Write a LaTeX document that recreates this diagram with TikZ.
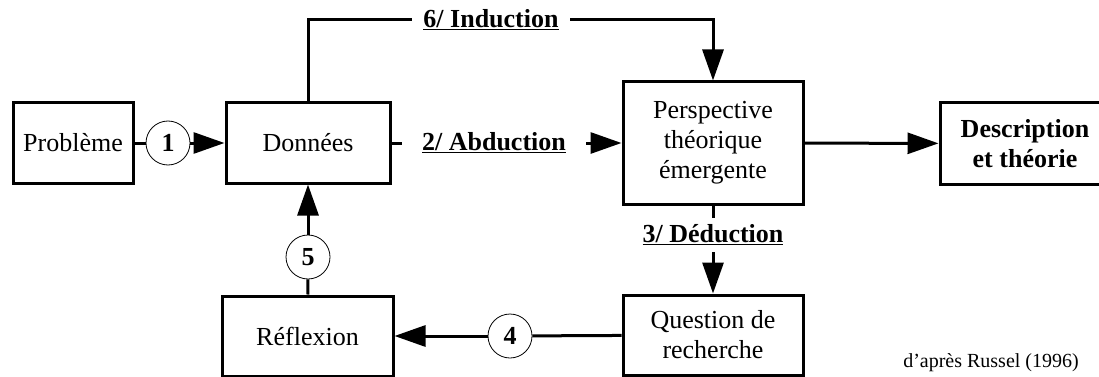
\documentclass[tikz,border=0pt]{standalone}
\usepackage{fontspec}
\setmainfont{Liberation Serif}
\usetikzlibrary{arrows.meta}

\tikzset{
  box/.style={draw, line width=3pt, align=center, inner sep=2pt,
    font=\fontsize{26}{30}\selectfont},
  num/.style={draw, circle, line width=0.8pt, minimum size=44pt, inner sep=0pt,
    font=\fontsize{26}{30}\selectfont\bfseries},
  lab/.style={inner sep=0pt, font=\fontsize{26}{30}\selectfont\bfseries},
  conn/.style={line width=3pt},
  arr/.style={line width=3pt, -{Triangle[length=31pt,width=21pt]}}
}

\begin{document}
\begin{tikzpicture}
      [x=1pt, y=-1pt]
      \clip (0,0) rectangle (1099,377);
      \fill[white] (0,0) rectangle (1099,377);

      % boxes
      \node[box, minimum width=120pt, minimum height=80pt] (probleme) at (73,143) {Problème};
      \node[box, minimum width=164pt, minimum height=80pt] (donnees) at (308,143) {Données};
      \node[box, minimum width=180pt, minimum height=122pt] (persp) at (713,143)
        {Perspective\\théorique\\émergente};
      \node[box, minimum width=170pt, minimum height=81pt, font=\fontsize{26}{30}\selectfont\bfseries]
        (descr) at (1025,143.5) {Description\\et théorie};
      \node[box, minimum width=180pt, minimum height=80pt] (question) at (713,335)
        {Question de\\recherche};
      \node[box, minimum width=171pt, minimum height=80pt] (reflexion) at (307.5,336) {Réflexion};

      % numbered steps
      \node[num] (c1) at (168,143) {1};
      \node[num] (c4) at (510,336) {4};
      \node[num] (c5) at (308,257) {5};

      % inference labels
      \node[lab, minimum width=158pt, minimum height=20pt] (induc) at (491,20) {\underline{6/ Induction}};
      \node[lab, minimum width=184pt, minimum height=20pt] (abduc) at (494,143) {\underline{2/ Abduction}};
      \node[lab, minimum height=34pt] (deduc) at (713,235) {\underline{3/ Déduction}};

      \node[inner sep=0pt, font=\fontsize{20}{24}\selectfont] (source) at (991,363) {d'après Russel (1996)};

      % connectors
      \draw[conn] (probleme) -- (c1);
      \draw[arr] (c1) -- (donnees);
      \draw[conn] (donnees.north) |- (induc.west);
      \draw[arr] (induc.east) -| (persp.north);
      \draw[conn] (donnees.east) -- (abduc.west);
      \draw[arr] (abduc.east) -- (persp.west);
      \draw[arr] (persp) -- (descr);
      \draw[conn] (persp.south) -- (deduc.north);
      \draw[arr] (deduc.south) -- (question.north);
      \draw[conn] (question) -- (c4);
      \draw[arr] (c4) -- (reflexion);
      \draw[conn] (reflexion) -- (c5);
      \draw[arr] (c5) -- (donnees);
    \end{tikzpicture}
\end{document}
